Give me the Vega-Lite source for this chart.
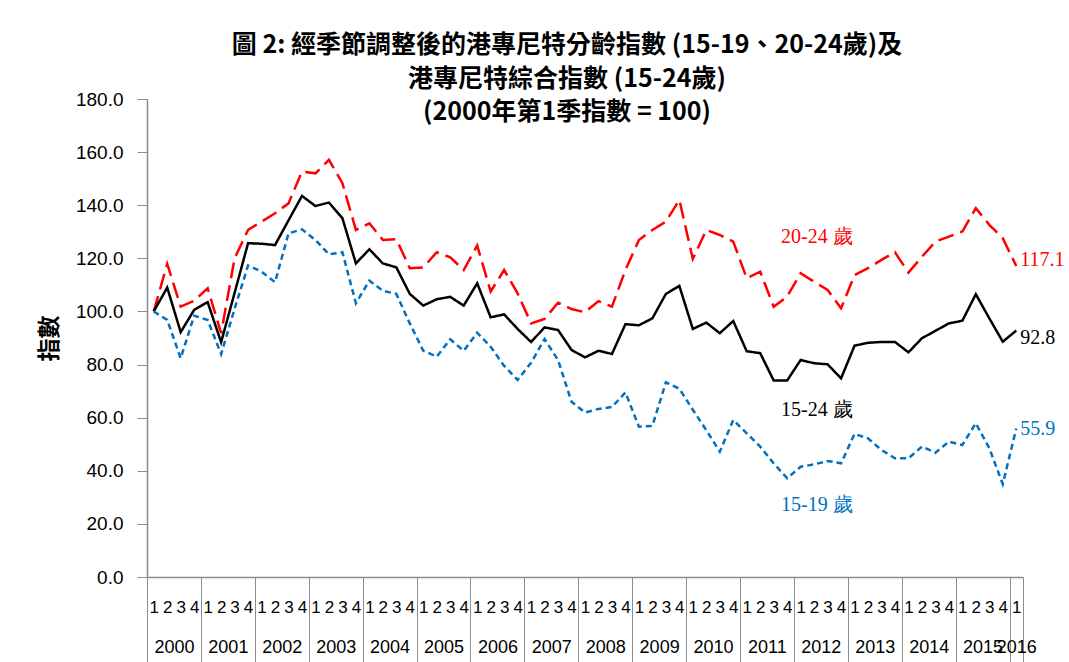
{
  "$schema": "https://vega.github.io/schema/vega-lite/v6.json",
  "width": 876,
  "height": 478,
  "autosize": {"type": "none"},
  "padding": {"left": 147, "top": 99, "right": 46, "bottom": 85},
  "background": "white",
  "title": {
    "text": ["圖 2: 經季節調整後的港專尼特分齡指數 (15-19、20-24歲)及", "港專尼特綜合指數 (15-24歲)", "(2000年第1季指數 =  100)"],
    "font": "Noto Sans CJK TC",
    "fontSize": 25,
    "fontWeight": "bold",
    "color": "black",
    "anchor": "middle",
    "frame": "group",
    "dx": -18,
    "offset": -35,
    "lineHeight": 33.5
  },
  "config": {
    "view": {"stroke": null},
    "axis": {"grid": false, "labelColor": "black", "domainColor": "#8c8c8c", "tickColor": "#8c8c8c"}
  },
  "data": {
    "values": [
      {"t": 0, "15-24": 100.0, "20-24": 100.0, "15-19": 100.0},
      {"t": 1, "15-24": 109.0, "20-24": 117.9, "15-19": 96.8},
      {"t": 2, "15-24": 92.2, "20-24": 101.8, "15-19": 82.4},
      {"t": 3, "15-24": 100.6, "20-24": 104.0, "15-19": 98.4},
      {"t": 4, "15-24": 103.5, "20-24": 108.7, "15-19": 96.8},
      {"t": 5, "15-24": 88.4, "20-24": 91.8, "15-19": 83.9},
      {"t": 6, "15-24": 107.0, "20-24": 120.0, "15-19": 101.0},
      {"t": 7, "15-24": 125.7, "20-24": 130.7, "15-19": 117.3},
      {"t": 8, "15-24": 125.5, "20-24": 133.8, "15-19": 115.0},
      {"t": 9, "15-24": 125.0, "20-24": 137.0, "15-19": 111.0},
      {"t": 10, "15-24": 134.3, "20-24": 140.7, "15-19": 129.4},
      {"t": 11, "15-24": 143.5, "20-24": 152.7, "15-19": 130.9},
      {"t": 12, "15-24": 139.7, "20-24": 152.0, "15-19": 126.9},
      {"t": 13, "15-24": 141.0, "20-24": 157.1, "15-19": 121.5},
      {"t": 14, "15-24": 135.1, "20-24": 148.3, "15-19": 122.3},
      {"t": 15, "15-24": 118.1, "20-24": 130.7, "15-19": 103.1},
      {"t": 16, "15-24": 123.4, "20-24": 133.2, "15-19": 111.6},
      {"t": 17, "15-24": 118.1, "20-24": 126.9, "15-19": 107.8},
      {"t": 18, "15-24": 116.6, "20-24": 127.2, "15-19": 106.6},
      {"t": 19, "15-24": 106.6, "20-24": 116.3, "15-19": 95.5},
      {"t": 20, "15-24": 102.2, "20-24": 116.6, "15-19": 85.2},
      {"t": 21, "15-24": 104.6, "20-24": 122.3, "15-19": 83.0},
      {"t": 22, "15-24": 105.5, "20-24": 120.4, "15-19": 89.5},
      {"t": 23, "15-24": 102.2, "20-24": 115.6, "15-19": 85.2},
      {"t": 24, "15-24": 110.6, "20-24": 124.8, "15-19": 92.0},
      {"t": 25, "15-24": 97.8, "20-24": 107.5, "15-19": 86.7},
      {"t": 26, "15-24": 98.9, "20-24": 115.6, "15-19": 79.5},
      {"t": 27, "15-24": 93.4, "20-24": 106.8, "15-19": 74.2},
      {"t": 28, "15-24": 88.5, "20-24": 95.5, "15-19": 80.7},
      {"t": 29, "15-24": 94.0, "20-24": 97.2, "15-19": 89.6},
      {"t": 30, "15-24": 93.0, "20-24": 103.3, "15-19": 81.7},
      {"t": 31, "15-24": 85.5, "20-24": 100.9, "15-19": 66.0},
      {"t": 32, "15-24": 82.7, "20-24": 99.7, "15-19": 61.9},
      {"t": 33, "15-24": 85.2, "20-24": 103.9, "15-19": 63.3},
      {"t": 34, "15-24": 84.0, "20-24": 101.8, "15-19": 64.0},
      {"t": 35, "15-24": 95.2, "20-24": 115.6, "15-19": 69.5},
      {"t": 36, "15-24": 94.8, "20-24": 126.9, "15-19": 56.6},
      {"t": 37, "15-24": 97.4, "20-24": 130.7, "15-19": 56.9},
      {"t": 38, "15-24": 106.6, "20-24": 133.8, "15-19": 73.3},
      {"t": 39, "15-24": 109.6, "20-24": 142.0, "15-19": 70.9},
      {"t": 40, "15-24": 93.4, "20-24": 119.8, "15-19": 63.0},
      {"t": 41, "15-24": 95.8, "20-24": 130.7, "15-19": 55.3},
      {"t": 42, "15-24": 91.8, "20-24": 128.8, "15-19": 47.2},
      {"t": 43, "15-24": 96.4, "20-24": 126.3, "15-19": 59.1},
      {"t": 44, "15-24": 85.0, "20-24": 112.5, "15-19": 54.1},
      {"t": 45, "15-24": 84.3, "20-24": 115.0, "15-19": 49.1},
      {"t": 46, "15-24": 74.0, "20-24": 101.8, "15-19": 42.8},
      {"t": 47, "15-24": 74.0, "20-24": 105.6, "15-19": 37.2},
      {"t": 48, "15-24": 81.7, "20-24": 114.4, "15-19": 41.5},
      {"t": 49, "15-24": 80.5, "20-24": 111.2, "15-19": 42.4},
      {"t": 50, "15-24": 80.1, "20-24": 108.1, "15-19": 43.7},
      {"t": 51, "15-24": 74.8, "20-24": 101.2, "15-19": 42.8},
      {"t": 52, "15-24": 87.1, "20-24": 113.7, "15-19": 53.9},
      {"t": 53, "15-24": 88.2, "20-24": 116.3, "15-19": 52.2},
      {"t": 54, "15-24": 88.5, "20-24": 119.4, "15-19": 47.8},
      {"t": 55, "15-24": 88.5, "20-24": 122.3, "15-19": 44.7},
      {"t": 56, "15-24": 84.6, "20-24": 114.6, "15-19": 44.7},
      {"t": 57, "15-24": 89.9, "20-24": 120.6, "15-19": 49.1},
      {"t": 58, "15-24": 92.7, "20-24": 126.3, "15-19": 46.8},
      {"t": 59, "15-24": 95.5, "20-24": 128.2, "15-19": 51.0},
      {"t": 60, "15-24": 96.5, "20-24": 130.1, "15-19": 49.7},
      {"t": 61, "15-24": 106.5, "20-24": 138.9, "15-19": 57.9},
      {"t": 62, "15-24": 97.4, "20-24": 132.6, "15-19": 48.5},
      {"t": 63, "15-24": 88.6, "20-24": 127.6, "15-19": 35.0},
      {"t": 64, "15-24": 92.8, "20-24": 117.1, "15-19": 55.9}
    ]
  },
  "layer": [
    {
      "transform": [{"fold": ["20-24", "15-24", "15-19"], "as": ["series", "v"]}],
      "mark": {"type": "line", "strokeWidth": 2.5},
      "encoding": {
        "x": {
          "field": "t", "type": "quantitative",
          "scale": {"domain": [-0.5, 64.5], "nice": false, "zero": false},
          "axis": {
            "orient": "bottom",
            "values": [0,1,2,3,4,5,6,7,8,9,10,11,12,13,14,15,16,17,18,19,20,21,22,23,24,25,26,27,28,29,30,31,32,33,34,35,36,37,38,39,40,41,42,43,44,45,46,47,48,49,50,51,52,53,54,55,56,57,58,59,60,61,62,63,64],
            "labelExpr": "'' + (datum.value % 4 + 1)",
            "ticks": false,
            "domain": true,
            "domainColor": "#8c8c8c",
            "domainWidth": 1.5,
            "labelPadding": 22,
            "labelFontSize": 17,
            "labelFont": "Liberation Sans",
            "labelOverlap": false,
            "labelBound": false,
            "labelFlush": false,
            "title": null
          }
        },
        "y": {
          "field": "v", "type": "quantitative",
          "scale": {"domain": [0, 180], "nice": false},
          "axis": {
            "values": [0, 20, 40, 60, 80, 100, 120, 140, 160, 180],
            "format": ".1f",
            "domainWidth": 1.5,
            "tickSize": 10,
            "labelPadding": 14,
            "labelFontSize": 19,
            "labelFont": "Liberation Sans",
            "title": "指數",
            "titleFont": "Noto Sans CJK TC",
            "titleFontSize": 23,
            "titleFontWeight": "bold",
            "titleColor": "black",
            "titlePadding": 14
          }
        },
        "color": {
          "field": "series", "type": "nominal",
          "scale": {"domain": ["20-24", "15-24", "15-19"], "range": ["#FF0000", "#000000", "#0070C0"]},
          "legend": null
        },
        "strokeDash": {
          "field": "series", "type": "nominal",
          "scale": {"domain": ["20-24", "15-24", "15-19"], "range": [[16, 7], [1, 0], [6, 4]]},
          "legend": null
        }
      }
    },
    {
      "mark": {"type": "point", "opacity": 0},
      "encoding": {
        "x": {
          "field": "t", "type": "quantitative",
          "scale": {"domain": [-0.5, 64.5], "nice": false, "zero": false},
          "axis": {
            "orient": "bottom",
            "values": [-0.5, 3.5, 7.5, 11.5, 15.5, 19.5, 23.5, 27.5, 31.5, 35.5, 39.5, 43.5, 47.5, 51.5, 55.5, 59.5, 63.5, 64.5],
            "labels": false,
            "domain": false,
            "tickSize": 90,
            "tickColor": "#8c8c8c",
            "title": null
          }
        }
      }
    },
    {
      "mark": {"type": "point", "opacity": 0},
      "encoding": {
        "x": {
          "field": "t", "type": "quantitative",
          "scale": {"domain": [-0.5, 64.5], "nice": false, "zero": false},
          "axis": {
            "orient": "bottom",
            "values": [1.5, 5.5, 9.5, 13.5, 17.5, 21.5, 25.5, 29.5, 33.5, 37.5, 41.5, 45.5, 49.5, 53.5, 57.5, 61.5, 64],
            "labelExpr": "'' + (2000 + floor(datum.value / 4))",
            "ticks": false,
            "domain": false,
            "labelPadding": 61,
            "labelFontSize": 18,
            "labelFont": "Liberation Sans",
            "labelOverlap": false,
            "labelBound": false,
            "labelFlush": false,
            "title": null
          }
        }
      }
    },
    {
      "transform": [{"fold": ["20-24", "15-24", "15-19"], "as": ["series", "v"]}, {"filter": "datum.t == 64 && datum.series == '20-24'"}],
      "mark": {"type": "text", "align": "left", "baseline": "middle", "dx": 4, "dy": -6, "font": "Liberation Serif", "fontSize": 20, "color": "#FF0000"},
      "encoding": {
        "x": {"field": "t", "type": "quantitative", "axis": null},
        "y": {"field": "v", "type": "quantitative"},
        "text": {"field": "v", "type": "quantitative", "format": ".1f"}
      }
    },
    {
      "transform": [{"fold": ["20-24", "15-24", "15-19"], "as": ["series", "v"]}, {"filter": "datum.t == 64 && datum.series == '15-24'"}],
      "mark": {"type": "text", "align": "left", "baseline": "middle", "dx": 4, "dy": 7, "font": "Liberation Serif", "fontSize": 20, "color": "#000000"},
      "encoding": {
        "x": {"field": "t", "type": "quantitative", "axis": null},
        "y": {"field": "v", "type": "quantitative"},
        "text": {"field": "v", "type": "quantitative", "format": ".1f"}
      }
    },
    {
      "transform": [{"fold": ["20-24", "15-24", "15-19"], "as": ["series", "v"]}, {"filter": "datum.t == 64 && datum.series == '15-19'"}],
      "mark": {"type": "text", "align": "left", "baseline": "middle", "dx": 4, "dy": 0, "font": "Liberation Serif", "fontSize": 20, "color": "#0070C0"},
      "encoding": {
        "x": {"field": "t", "type": "quantitative", "axis": null},
        "y": {"field": "v", "type": "quantitative"},
        "text": {"field": "v", "type": "quantitative", "format": ".1f"}
      }
    },
    {
      "data": {
        "values": [
          {"t": 49.2, "v": 128.0, "series": "20-24", "label": "20-24 歲"},
          {"t": 49.2, "v": 62.9, "series": "15-24", "label": "15-24 歲"},
          {"t": 49.2, "v": 27.1, "series": "15-19", "label": "15-19 歲"}
        ]
      },
      "mark": {"type": "text", "align": "center", "baseline": "middle", "font": "Liberation Serif", "fontSize": 20},
      "encoding": {
        "x": {"field": "t", "type": "quantitative", "axis": null},
        "y": {"field": "v", "type": "quantitative"},
        "text": {"field": "label", "type": "nominal"},
        "color": {"field": "series", "type": "nominal", "legend": null}
      }
    }
  ],
  "resolve": {"axis": {"x": "independent"}}
}
